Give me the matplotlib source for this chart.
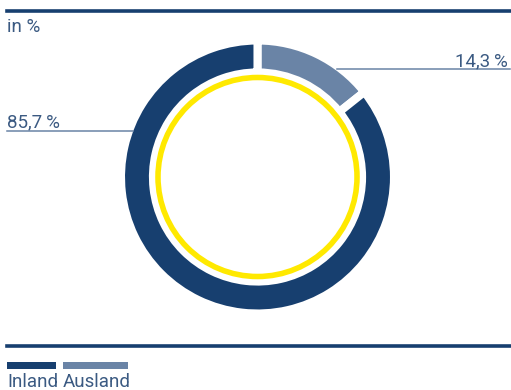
import matplotlib
matplotlib.use("Agg")
import matplotlib.pyplot as plt
from matplotlib.lines import Line2D
from matplotlib.patches import Rectangle, Circle

# Data
categories = ["Inland", "Ausland"]
shares = [85.7, 14.3]
share_labels = ["85,7\u2009%", "14,3\u2009%"]
unit_label = "in %"

navy = "#173f6f"
steel = "#6a84a6"
yellow = "#ffe900"
text_col = "#3b5a82"

plt.rcParams["font.family"] = ["Roboto", "DejaVu Sans"]

W, H = 511, 390
fig = plt.figure(figsize=(W / 100, H / 100), dpi=100)

def fx(px):
    return px / W

def fy(py):
    return 1 - py / H

# Donut axes: centre (257.5, 177) px, half-size 136.5 px
cx, cy, half = 257.5, 177.0, 136.5
ax = fig.add_axes([fx(cx - half), fy(cy + half), 2 * half / W, 2 * half / H])

# Ausland starts at 12 o'clock and runs clockwise
ax.pie(shares[::-1], colors=[steel, navy], startangle=90, counterclock=False,
       radius=1.0, wedgeprops=dict(width=0.234, edgecolor="white", linewidth=5.8))
ax.add_patch(Circle((0, 0), 0.729, fill=False, edgecolor=yellow, linewidth=4.0))
ax.set_xlim(-1, 1)
ax.set_ylim(-1, 1)
ax.set_aspect("equal")
ax.axis("off")

# Horizontal rules
fig.add_artist(Line2D([fx(7), fx(511)], [fy(10.5), fy(10.5)], color=navy, lw=2.6))
fig.add_artist(Line2D([fx(7), fx(511)], [fy(346), fy(346)], color=navy, lw=2.6))

fs = 13.5
fig.text(fx(7), fy(32), unit_label, color=text_col, fontsize=fs,
         ha="left", va="baseline")

# Leader lines and share labels
fig.add_artist(Line2D([fx(337), fx(510)], [fy(69), fy(69)], color=steel, lw=1.1))
fig.text(fx(508), fy(66), share_labels[1], color=text_col, fontsize=fs,
         ha="right", va="baseline")
fig.add_artist(Line2D([fx(7), fx(133)], [fy(131), fy(131)], color=steel, lw=1.1))
fig.text(fx(7), fy(127.5), share_labels[0], color=text_col, fontsize=fs,
         ha="left", va="baseline")

# Legend
legend_x = [7, 63]
legend_w = [49, 65]
for name, col, x0, w in zip(categories, [navy, steel], legend_x, legend_w):
    fig.add_artist(Rectangle((fx(x0), fy(369)), w / W, 7 / H, facecolor=col,
                             edgecolor="none", transform=fig.transFigure))
    fig.text(fx(x0), fy(387), name, color=text_col, fontsize=fs,
             ha="left", va="baseline")

fig.savefig("out.png", dpi=100)
